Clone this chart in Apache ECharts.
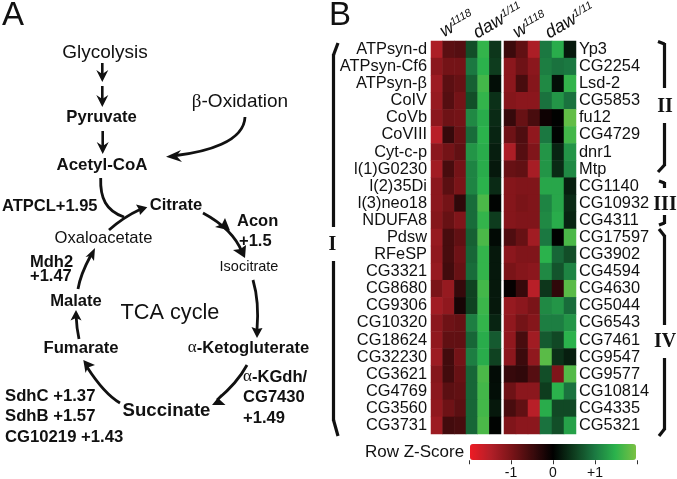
<!DOCTYPE html>
<html>
<head>
<meta charset="utf-8">
<title>TCA cycle and heatmap</title>
<style>
	html, body { height: 100%; margin: 0; background: #fff; }
</style>
<script src="https://cdn.jsdelivr.net/npm/echarts@6/dist/echarts.min.js"></script>
</head>
<body>
<div id="main" style="width:677px;height:479px;"></div>
<script type="text/javascript">
var genesLeft = ['ATPsyn-d', 'ATPsyn-Cf6', 'ATPsyn-β', 'CoIV', 'CoVb', 'CoVIII', 'Cyt-c-p', 'l(1)G0230',
	'l(2)35Di', 'l(3)neo18', 'NDUFA8', 'Pdsw', 'RFeSP', 'CG3321', 'CG8680', 'CG9306', 'CG10320',
	'CG18624', 'CG32230', 'CG3621', 'CG4769', 'CG3560', 'CG3731'];
var genesRight = ['Yp3', 'CG2254', 'Lsd-2', 'CG5853', 'fu12', 'CG4729', 'dnr1', 'Mtp', 'CG1140', 'CG10932',
	'CG4311', 'CG17597', 'CG3902', 'CG4594', 'CG4630', 'CG5044', 'CG6543', 'CG7461', 'CG9547', 'CG9577',
	'CG10814', 'CG4335', 'CG5321'];
var samples = ['w1', 'w2', 'w3', 'daw1', 'daw2', 'daw3'];

// z-scores, one row per gene
var zLeft = [
	[-1.45, -0.75, -0.7, 0.65, 1.55, 0.45],
	[-1.15, -0.95, -0.95, 1.0, 1.5, 0.5],
	[-1.3, -0.75, -0.85, 0.8, 1.65, 0.12],
	[-1.25, -0.7, -0.95, 0.65, 1.55, 0.4],
	[-1.15, -0.9, -0.95, 1.15, 1.45, 0.35],
	[-1.55, -0.45, -0.85, 0.9, 1.5, 0.3],
	[-1.15, -0.95, -0.8, 1.25, 1.45, 0.25],
	[-1.35, -0.6, -0.95, 1.1, 1.45, 0.2],
	[-1.15, -0.75, -1.0, 1.1, 1.5, 0.35],
	[-1.15, -0.95, -0.4, 0.9, 1.7, 0.03],
	[-1.1, -0.85, -1.05, 0.9, 1.55, 0.5],
	[-1.25, -0.6, -0.8, 0.8, 1.7, 0.08],
	[-1.2, -0.6, -0.9, 0.85, 1.55, 0.2],
	[-1.25, -0.55, -0.85, 0.9, 1.55, 0.2],
	[-1.0, -1.25, -0.45, 0.55, 1.65, 0.2],
	[-1.35, -1.2, -0.2, 0.55, 1.6, 0.2],
	[-1.15, -0.9, -0.85, 1.05, 1.55, 0.3],
	[-1.2, -0.8, -0.8, 0.85, 1.45, 0.75],
	[-1.3, -0.55, -0.95, 1.05, 1.45, 0.55],
	[-1.1, -0.55, -0.85, 0.85, 1.7, 0.1],
	[-1.15, -0.75, -0.8, 0.85, 1.65, 0.12],
	[-1.2, -0.9, -0.75, 0.85, 1.65, 0.2],
	[-1.3, -0.55, -0.6, 0.85, 1.7, 0.03]
];
var zRight = [
	[-0.5, -0.8, -1.45, 1.0, 1.45, 0.2],
	[-1.15, -0.9, -1.15, 1.05, 0.95, 1.0],
	[-1.15, -0.6, -1.1, 1.15, 0.12, 1.55],
	[-1.1, -1.15, -1.15, 0.95, 1.25, 0.95],
	[-0.45, -0.85, -0.6, -0.12, 0.02, 1.85],
	[-0.9, -0.65, -1.2, 1.0, 0.03, 1.65],
	[-1.45, -0.7, -1.05, 1.25, 0.3, 1.25],
	[-0.85, -0.8, -1.4, 1.25, 0.35, 1.15],
	[-1.1, -1.05, -1.05, 1.4, 1.4, 0.25],
	[-1.1, -1.0, -1.05, 1.1, 1.4, 0.35],
	[-1.1, -1.05, -1.05, 1.15, 1.45, 0.3],
	[-0.65, -0.85, -1.35, 1.0, 0.02, 1.7],
	[-1.15, -1.05, -1.05, 1.5, 0.85, 0.65],
	[-1.0, -1.1, -1.15, 1.15, 0.7, 1.1],
	[-0.05, -0.45, -1.55, 0.45, -0.4, 1.8],
	[-1.25, -1.15, -1.0, 1.15, 1.25, 0.9],
	[-1.2, -0.95, -1.1, 1.05, 1.05, 1.25],
	[-1.2, -0.6, -1.35, 0.75, 0.6, 1.5],
	[-1.15, -0.5, -1.2, 1.8, 0.4, 0.25],
	[-0.45, -0.4, -0.7, 0.65, -1.05, 1.75],
	[-0.9, -1.15, -1.15, 0.5, 1.5, 0.95],
	[-0.6, -0.8, -1.55, 1.45, 0.6, 0.6],
	[-1.05, -1.15, -1.15, 0.95, 0.65, 1.35]
];
var scaleTicks = { '-1': '-1', '0': '0', '1': '+1' };
var scaleColors = ['#ee1c25', '#b21f28', '#7a1418', '#3c0a0c', '#000000', '#0e3c1e', '#1b7841', '#2bb24c', '#7ac143'];

var FONT = '"Liberation Sans", Arial, sans-serif';
var SERIF = '"Liberation Serif", serif';
var INK = '#111';

function toCells(rows) {
	var out = [];
	rows.forEach(function (row, y) {
		row.forEach(function (v, x) { out.push([x, y, v]); });
	});
	return out;
}

// panel A text and arrows, and the brackets of panel B
var shapes = [];

function txt(s, x, y, size, bold, align, extra) {
	var style = {
		text: s, x: x, y: y, fill: INK, font: (bold ? 'bold ' : '') + size + 'px ' + FONT,
		align: align || 'center', verticalAlign: 'middle'
	};
	if (extra) style.rich = extra;
	shapes.push({ type: 'text', style: style, z: 10 });
}
function line(x1, y1, x2, y2, w) {
	shapes.push({ type: 'line', shape: { x1: x1, y1: y1, x2: x2, y2: y2 },
		style: { stroke: INK, lineWidth: w || 2.6 }, z: 9 });
}
function curve(x1, y1, cx1, cy1, cx2, cy2, x2, y2, w) {
	shapes.push({ type: 'bezierCurve',
		shape: { x1: x1, y1: y1, cpx1: cx1, cpy1: cy1, cpx2: cx2, cpy2: cy2, x2: x2, y2: y2 },
		style: { stroke: INK, fill: 'none', lineWidth: w || 2.6 }, z: 9 });
}
function head(pts) { // tip, barb, notch, barb
	shapes.push({ type: 'polygon', shape: { points: pts }, style: { fill: INK }, z: 9 });
}
function down(x, y1, y2) {
	line(x, y1, x, y2 - 6);
	head([[x, y2], [x - 6, y2 - 12], [x, y2 - 8], [x + 6, y2 - 12]]);
}

txt('A', 2, 16, 33, false, 'left');
txt('B', 329, 16, 33, false, 'left');

txt('Glycolysis', 105, 53, 19);
txt('{s|β}-Oxidation', 240, 102, 19, false, 'center', { s: { font: '19px ' + SERIF, fill: INK } });
txt('Pyruvate', 101.5, 117, 16.7, true);
txt('Acetyl-CoA', 102, 165, 16.9, true);
txt('ATPCL+1.95', 2, 206, 16.5, true, 'left');
txt('Citrate', 176, 205.5, 16.6, true);
txt('Acon', 237, 221, 16.5, true, 'left');
txt('+1.5', 239, 241, 16.5, true, 'left');
txt('Oxaloacetate', 103.5, 238, 16.6);
txt('Isocitrate', 249, 267, 14.5);
txt('Mdh2', 30, 262, 16.5, true, 'left');
txt('+1.47', 30, 276, 16.5, true, 'left');
txt('Malate', 76, 301, 16.6, true);
txt('TCA cycle', 170, 313, 21.7);
txt('Fumarate', 81, 348, 16.7, true);
txt('{s|α}-Ketogluterate', 248.5, 348, 16.6, true, 'center', { s: { font: '17px ' + SERIF, fill: INK } });
txt('{s|α}-KGdh/', 243, 377, 16.6, true, 'left', { s: { font: '17px ' + SERIF, fill: INK } });
txt('CG7430', 243, 397, 16.6, true, 'left');
txt('+1.49', 243, 418, 16.6, true, 'left');
txt('Succinate', 166.5, 411, 18.6, true);
txt('SdhC +1.37', 5, 396, 16.7, true, 'left');
txt('SdhB +1.57', 5, 416, 16.7, true, 'left');
txt('CG10219 +1.43', 5, 437, 16.7, true, 'left');

down(102.3, 63, 82);
down(102.3, 86, 107);
down(102.7, 131, 154);
// beta oxidation
curve(245, 117, 244, 142, 206, 152, 176, 155.5, 2.8);
head([[166, 156.7], [181, 150], [176.5, 156], [182, 162]]);
// acetyl-coa into citrate
curve(100.7, 178, 100, 198, 106, 211, 124, 217, 2.8);
curve(109, 230, 118, 222, 128, 215, 140, 209.5, 2.8);
head([[147.3, 207.3], [136, 204.5], [139, 209.5], [140, 215]]);
// citrate to isocitrate, with the second head half way
curve(203, 213, 216, 220, 234, 232, 242, 252, 2.8);
head([[230, 230.5], [215, 227], [222, 224], [225, 218]]);
head([[245, 258], [233, 250], [240.5, 249], [246, 245]]);
// isocitrate to ketogluterate
curve(253, 280, 258, 297, 258.5, 312, 257, 330, 2.8);
head([[257, 338], [251.5, 327], [257, 329], [262.5, 328]]);
// to succinate
curve(247, 365, 240, 378, 230, 389, 217, 400, 2.8);
head([[212, 405], [221, 394], [219.5, 399.5], [225.5, 405]]);
// to fumarate
curve(120, 403, 108, 396, 96, 381, 87, 367, 2.8);
head([[83.3, 360], [85.5, 373], [88, 367.5], [95, 365]]);
// to malate
curve(79, 339, 77.5, 332, 76.5, 325, 76.2, 317, 2.8);
head([[76, 310], [70.5, 320.5], [76, 318], [81.5, 320.5]]);
// to oxaloacetate
curve(78, 289, 80, 277, 85, 266, 91, 255, 2.8);
head([[95, 248], [85.5, 257], [90.5, 256], [94, 261]]);

// header labels
var headRich = {
	i: { font: 'italic 18px ' + FONT, fill: INK },
	u: { font: 'italic 11px ' + FONT, fill: INK, verticalAlign: 'top', lineHeight: 18 }
};
[['{i|w}{u|1118}', 457, 24], ['{i|daw}{u|1/11}', 498, 21], ['{i|w}{u|1118}', 530, 25], ['{i|daw}{u|1/11}', 570, 21]].forEach(function (h) {
	shapes.push({ type: 'text', x: h[1], y: h[2], rotation: Math.PI / 6, z: 10,
		style: { text: h[0], rich: headRich, align: 'center', verticalAlign: 'middle' } });
});

// brackets
var BW = 3.2;
line(338, 43, 333.5, 55, BW);
line(333.5, 54, 333.5, 227, BW);
line(333.5, 261, 333.5, 421, BW);
line(333.5, 420, 338, 436, BW);
shapes.push({ type: 'text', style: { text: 'I', x: 332.5, y: 245, font: 'bold 20px ' + SERIF, fill: INK, align: 'center', verticalAlign: 'middle' } });

line(658, 41.5, 664.5, 44, BW);
line(664.5, 43, 664.5, 88, BW);
line(664.5, 123, 664.5, 166, BW);
line(664.5, 165, 658, 172, BW);
line(659, 181, 664.5, 183, BW);
line(664.5, 182, 664.5, 188, BW);
line(664.5, 215, 664.5, 224, BW);
line(664.5, 223, 659, 225, BW);
line(659, 229, 664.5, 236, BW);
line(664.5, 235, 664.5, 325, BW);
line(664.5, 358, 664.5, 430, BW);
line(664.5, 429, 659, 436, BW);
[['II', 665, 107], ['III', 665, 205], ['IV', 665, 342]].forEach(function (r) {
	shapes.push({ type: 'text', style: { text: r[0], x: r[1], y: r[2], font: 'bold 20px ' + SERIF, fill: INK, align: 'center', verticalAlign: 'middle' } });
});

txt('Row Z-Score', 365, 452, 17, false, 'left');

var dom = document.getElementById('main');
var myChart = echarts.init(dom);
var option = {
	animation: false,
	backgroundColor: '#fff',
	grid: [
		{ left: 431, top: 41, width: 70, height: 393 },
		{ left: 504, top: 41, width: 72, height: 393 },
		{ left: 469, top: 460, width: 168, height: 1 }
	],
	xAxis: [
		{ type: 'category', gridIndex: 0, data: samples, show: false },
		{ type: 'category', gridIndex: 1, data: samples, show: false },
		{
			type: 'value', gridIndex: 2, min: -2, max: 2, interval: 1,
			splitLine: { show: false },
			axisLine: { show: false },
			axisTick: { length: 4, lineStyle: { color: '#333' } },
			axisLabel: {
				margin: 6, fontSize: 14, fontFamily: FONT, color: INK,
				formatter: function (v) { return scaleTicks[v] || ''; }
			}
		}
	],
	yAxis: [
		{
			type: 'category', gridIndex: 0, data: genesLeft, inverse: true, position: 'left',
			axisLine: { show: false }, axisTick: { show: false },
			axisLabel: { margin: 4, interval: 0, fontSize: 16.4, fontFamily: FONT, color: INK }
		},
		{
			type: 'category', gridIndex: 1, data: genesRight, inverse: true, position: 'right',
			axisLine: { show: false }, axisTick: { show: false },
			axisLabel: { margin: 3, interval: 0, fontSize: 16.4, fontFamily: FONT, color: INK }
		},
		{ type: 'value', gridIndex: 2, show: false }
	],
	visualMap: {
		type: 'continuous', min: -2, max: 2, seriesIndex: [0, 1],
		orient: 'horizontal', left: 470, top: 444, itemWidth: 16, itemHeight: 166,
		calculable: false, showLabel: false, text: null, padding: 0,
		inRange: { color: scaleColors }, hoverLink: false
	},
	series: [
		{ type: 'heatmap', xAxisIndex: 0, yAxisIndex: 0, data: toCells(zLeft), itemStyle: { borderWidth: 0 } },
		{ type: 'heatmap', xAxisIndex: 1, yAxisIndex: 1, data: toCells(zRight), itemStyle: { borderWidth: 0 } }
	],
	graphic: shapes
};
myChart.setOption(option);
</script>
</body>
</html>
